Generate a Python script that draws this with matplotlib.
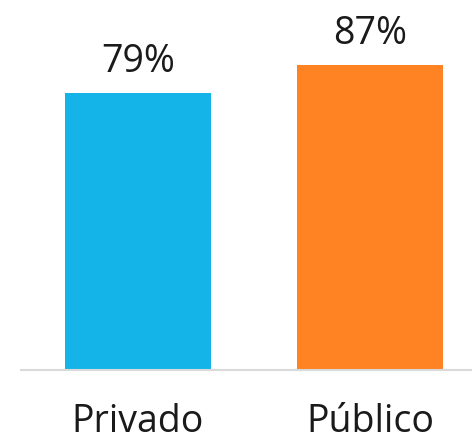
import matplotlib
matplotlib.use("Agg")
import matplotlib.pyplot as plt
from matplotlib import font_manager as fm

categories = ["Privado", "Público"]
values = [79, 87]
value_labels = ["79%", "87%"]
colors = ["#14B4E8", "#FF8223"]

names = {f.name for f in fm.fontManager.ttflist}
fam = [n for n in ["Liberation Sans Narrow", "Open Sans", "DejaVu Sans"] if n in names]
plt.rcParams["font.family"] = fam

W, H = 472, 443
fig = plt.figure(figsize=(W / 100, H / 100), dpi=100)
ax = fig.add_axes([21 / W, (H - 370) / H, 1 - 21 / W, 370 / H])

x = list(range(len(categories)))
ax.bar(x, values, width=146 / 232, color=colors)
ax.set_xlim((21 - 138) / 232, (472 - 138) / 232)
ax.set_ylim(0, 370 / 3.506)

for xi, v, lab in zip(x, values, value_labels):
    ax.annotate(lab, (xi, v), xytext=(0, 15), textcoords="offset points",
                ha="center", va="baseline", fontsize=27, color="#1a1a1a")

ax.set_xticks([])
for xi, cat in zip(x, categories):
    ax.text(xi, -62 / 370, cat, transform=ax.get_xaxis_transform(),
            ha="center", va="baseline", fontsize=27, color="#1a1a1a")
ax.set_yticks([])
for s in ["top", "right", "left"]:
    ax.spines[s].set_visible(False)
ax.spines["bottom"].set_color("#d9d9d9")
ax.spines["bottom"].set_linewidth(1.5)

fig.savefig("out.png", dpi=100)
